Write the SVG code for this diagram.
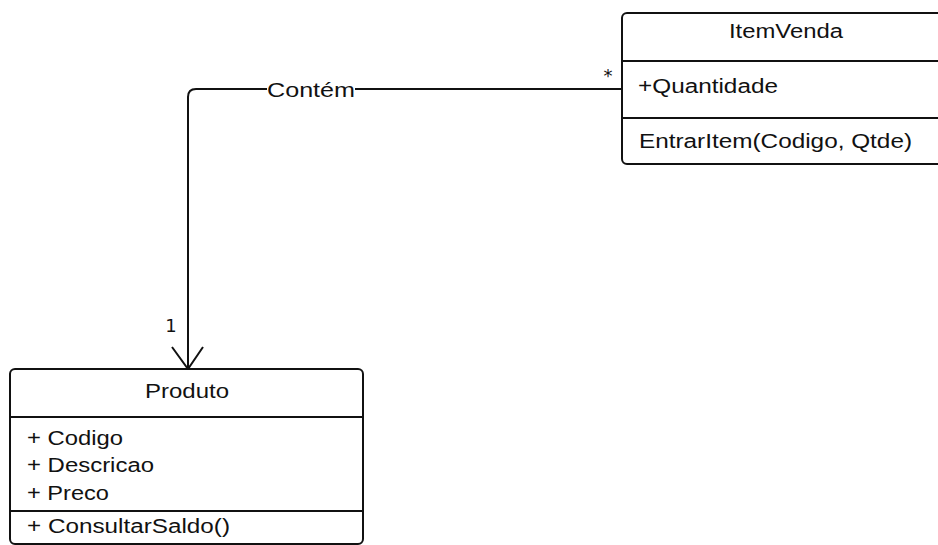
<svg xmlns="http://www.w3.org/2000/svg" width="938" height="545" viewBox="0 0 938 545">
  <style>
    .box { fill: #ffffff; stroke: #111111; stroke-width: 2; }
    .sep { stroke: #111111; stroke-width: 2; }
    .edge { fill: none; stroke: #111111; stroke-width: 2; }
    text { font-family: "Liberation Sans", Arial, sans-serif; font-size: 20px; fill: #111111; }
    .mult { font-family: "DejaVu Sans", sans-serif; font-size: 18px; }
  </style>
  <rect width="938" height="545" fill="#ffffff"/>

  <!-- association ItemVenda -> Produto -->
  <g id="connectors">
    <path class="edge" d="M 622 89 H 196 Q 188 89 188 97 V 369"/>
    <path class="edge" d="M 172 347 L 188 369 L 203 347"/>
    <rect x="267" y="78" width="88" height="24" fill="#ffffff"/>
    <text x="267" y="97" textLength="88" lengthAdjust="spacingAndGlyphs">Contém</text>
    <text class="mult" x="608" y="82" text-anchor="middle">*</text>
    <text class="mult" x="171" y="332" text-anchor="middle">1</text>
  </g>

  <!-- class ItemVenda -->
  <g id="itemvenda">
    <rect class="box" x="622" y="13" width="330" height="151" rx="5"/>
    <line class="sep" x1="622" y1="61" x2="952" y2="61"/>
    <line class="sep" x1="622" y1="118" x2="952" y2="118"/>
    <text x="729" y="38" textLength="114" lengthAdjust="spacingAndGlyphs">ItemVenda</text>
    <text x="638" y="93" textLength="140" lengthAdjust="spacingAndGlyphs">+Quantidade</text>
    <text x="639" y="148" textLength="273" lengthAdjust="spacingAndGlyphs">EntrarItem(Codigo, Qtde)</text>
  </g>

  <!-- class Produto -->
  <g id="produto">
    <rect class="box" x="10" y="369" width="353" height="175" rx="5"/>
    <line class="sep" x1="10" y1="417" x2="363" y2="417"/>
    <line class="sep" x1="10" y1="511" x2="363" y2="511"/>
    <text x="145" y="398" textLength="84" lengthAdjust="spacingAndGlyphs">Produto</text>
    <text x="27" y="445" textLength="96" lengthAdjust="spacingAndGlyphs">+ Codigo</text>
    <text x="27" y="472" textLength="127" lengthAdjust="spacingAndGlyphs">+ Descricao</text>
    <text x="27" y="500" textLength="82" lengthAdjust="spacingAndGlyphs">+ Preco</text>
    <text x="27" y="533" textLength="203" lengthAdjust="spacingAndGlyphs">+ ConsultarSaldo()</text>
  </g>
</svg>
